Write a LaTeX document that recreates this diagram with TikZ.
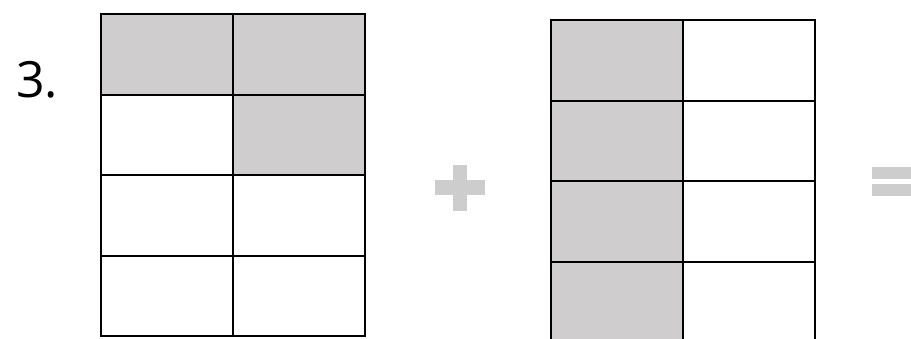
\documentclass[tikz,border=0pt]{standalone}
\usepackage{fontspec}
\setmainfont{Open Sans}
\definecolor{cellgray}{RGB}{207,205,206}
\definecolor{signgray}{RGB}{205,205,205}
\tikzset{
  cellshade/.style={fill=cellgray},
  gridline/.style={draw=black,line width=2pt},
  signbar/.style={fill=signgray},
}
\begin{document}
\begin{tikzpicture}[x=1pt,y=-1pt]
\useasboundingbox (0,0) rectangle (911,338);
\begin{scope}
\clip (0,0) rectangle (911,338);
% label
\node[font=\fontsize{50}{50}\selectfont,inner sep=0pt] (num) at (37,80) {3.};
% left grid
\fill[cellshade] (101,14) rectangle (365,94.5);
\fill[cellshade] (232.7,94.5) rectangle (365,175);
\draw[gridline] (101,14) rectangle (365,336);
\draw[gridline] (232.7,14) -- (232.7,336);
\foreach \y in {94.5,175,255.5} \draw[gridline] (101,\y) -- (365,\y);
% plus
\fill[signbar] (435,180) rectangle (485,195);
\fill[signbar] (452.7,165) rectangle (467,210.7);
% right grid
\fill[cellshade] (551,20) rectangle (682.7,342);
\draw[gridline] (551,20) rectangle (815,342);
\draw[gridline] (682.7,20) -- (682.7,342);
\foreach \y in {100.5,181,261.5} \draw[gridline] (551,\y) -- (815,\y);
% equals
\fill[signbar] (872,166.7) rectangle (915,179);
\fill[signbar] (872,184.3) rectangle (915,196);
\end{scope}
\end{tikzpicture}
\end{document}
